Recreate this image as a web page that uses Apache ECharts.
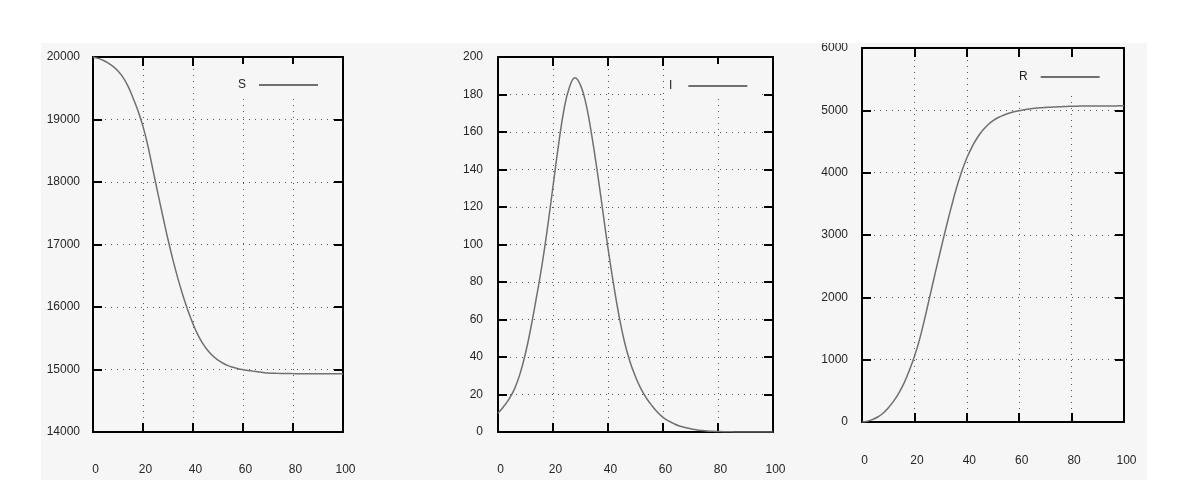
<!DOCTYPE html>
<html>
<head>
<meta charset="utf-8">
<script src="https://cdn.jsdelivr.net/npm/echarts@6/dist/echarts.min.js"></script>
<style>
  html, body { margin: 0; padding: 0; background: #fff; }
  #main { width: 1191px; height: 497px; }
</style>
</head>
<body>
<div id="main"></div>
<script>
// time steps (days)
var days = [0, 2, 4, 6, 8, 10, 12, 14, 16, 18, 20, 22, 24, 26, 28, 30, 32, 34, 36, 38, 40,
  42, 44, 46, 48, 50, 52, 54, 56, 58, 60, 62, 64, 66, 68, 70, 72, 74, 76, 78, 80,
  82, 84, 86, 88, 90, 92, 94, 96, 98, 100];

var sValues = [20000, 19978, 19948, 19905, 19850, 19775, 19675, 19535, 19345, 19140, 18890,
  18570, 18190, 17810, 17440, 17080, 16750, 16450, 16180, 15940, 15730,
  15550, 15410, 15300, 15215, 15150, 15100, 15062, 15035, 15013, 14997,
  14985, 14974, 14963, 14952, 14943, 14940, 14938, 14936, 14935, 14934,
  14933, 14933, 14932, 14932, 14932, 14931, 14931, 14931, 14931, 14931];

var iValues = [10, 13.5, 17.5, 23, 31, 42, 56, 72, 89, 109, 131,
  153, 172, 184, 189, 185, 175, 159, 140, 119, 98,
  79, 62, 48, 37.5, 29.5, 23, 18, 14, 10.5, 7.8,
  5.9, 4.4, 3.2, 2.4, 1.7, 1.2, 0.8, 0.5, 0.35, 0.25,
  0.15, 0.1, 0.05, 0.05, 0, 0, 0, 0, 0, 0];

var rValues = [0, 12, 40, 80, 140, 225, 330, 460, 620, 820, 1050,
  1330, 1670, 2035, 2400, 2755, 3105, 3435, 3745, 4010, 4235,
  4415, 4560, 4675, 4765, 4835, 4885, 4922, 4952, 4976, 4995,
  5010, 5022, 5032, 5040, 5046, 5051, 5055, 5059, 5062, 5065,
  5067, 5068, 5069, 5070, 5070, 5070, 5071, 5071, 5072, 5072];

var xTicks = { min: 0, max: 100, interval: 20 };
var sTicks = { min: 14000, max: 20000, interval: 1000 };
var iTicks = { min: 0, max: 200, interval: 20 };
var rTicks = { min: 0, max: 6000, interval: 1000 };

var FONT = 'Liberation Sans, Arial, sans-serif';
var BG = '#f6f6f6';
var LINE = '#707070';

function pairs(vals) {
  return days.map(function (d, i) { return [d, vals[i]]; });
}

function frameAxis(grid, pos, ticks, label, margin) {
  var isX = pos === 'bottom' || pos === 'top';
  return {
    type: 'value',
    gridIndex: grid,
    position: pos,
    min: ticks.min,
    max: ticks.max,
    interval: ticks.interval,
    axisLine: { show: true, onZero: false, lineStyle: { color: '#000', width: 2 } },
    axisTick: { show: true, inside: true, length: 9, lineStyle: { color: '#000', width: 2 } },
    axisLabel: {
      show: label,
      margin: margin,
      color: '#262626',
      fontFamily: FONT,
      fontSize: 12,
      padding: isX ? [0, 0, 0, 5] : 0,
      formatter: function (v) { return String(v); }
    },
    splitLine: {
      show: label,
      lineStyle: { color: '#555', width: 1, type: [1, 5] }
    }
  };
}

function legendFor(name, left, top, pad, gap) {
  return {
    data: [name],
    left: left,
    top: top,
    padding: pad,
    backgroundColor: BG,
    align: 'right',
    icon: 'rect',
    itemWidth: 59,
    itemHeight: 2,
    selectedMode: false,
    textStyle: { fontFamily: FONT, fontSize: 12, color: '#222', padding: [0, gap, 0, 0] }
  };
}

function seriesFor(name, vals, idx) {
  return {
    name: name,
    type: 'line',
    xAxisIndex: idx * 2,
    yAxisIndex: idx * 2,
    data: pairs(vals),
    smooth: 0.45,
    symbol: 'none',
    color: LINE,
    lineStyle: { color: LINE, width: 1.5 },
    z: 3
  };
}

var chart = echarts.init(document.getElementById('main'));

var option = {
  animation: false,
  backgroundColor: '#fff',
  graphic: [
    { type: 'rect', left: 41, top: 43, shape: { width: 1106, height: 437 }, style: { fill: BG }, z: -10, silent: true },
    { type: 'rect', left: 0, top: 0, shape: { width: 1191, height: 43 }, style: { fill: '#fff' }, z: 100, silent: true }
  ],
  grid: [
    { left: 93, top: 57, width: 250, height: 375 },
    { left: 498, top: 57, width: 275, height: 375 },
    { left: 862, top: 48, width: 262, height: 374 }
  ],
  xAxis: [
    frameAxis(0, 'bottom', xTicks, true, 32),
    frameAxis(0, 'top', xTicks, false, 0),
    frameAxis(1, 'bottom', xTicks, true, 32),
    frameAxis(1, 'top', xTicks, false, 0),
    frameAxis(2, 'bottom', xTicks, true, 33),
    frameAxis(2, 'top', xTicks, false, 0)
  ],
  yAxis: [
    frameAxis(0, 'left', sTicks, true, 13),
    frameAxis(0, 'right', sTicks, false, 0),
    frameAxis(1, 'left', iTicks, true, 15),
    frameAxis(1, 'right', iTicks, false, 0),
    frameAxis(2, 'left', rTicks, true, 14),
    frameAxis(2, 'right', rTicks, false, 0)
  ],
  legend: [
    legendFor('S', 228, 64, [15, 22, 7, 10], 8),
    legendFor('I', 666, 64, [16, 13, 6, 3], 11),
    legendFor('R', 1014, 57, [14, 19, 13, 5], 8)
  ],
  series: [
    seriesFor('S', sValues, 0),
    seriesFor('I', iValues, 1),
    seriesFor('R', rValues, 2)
  ]
};

chart.setOption(option);
</script>
</body>
</html>
